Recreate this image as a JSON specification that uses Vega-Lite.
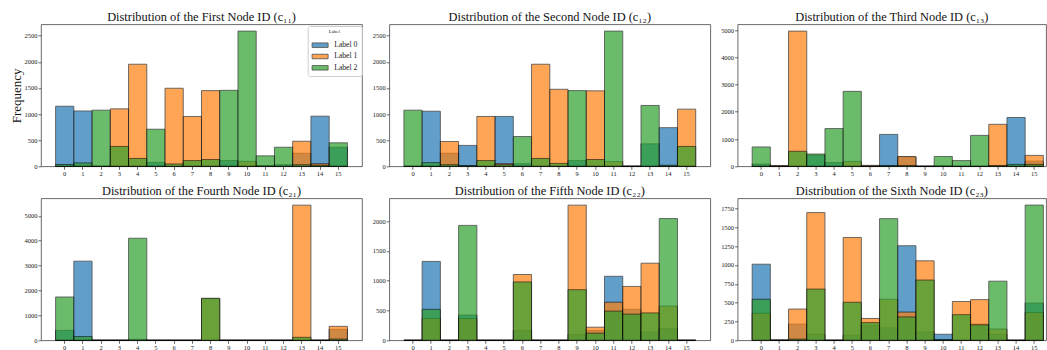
{
  "$schema": "https://vega.github.io/schema/vega-lite/v6.json",
  "padding": {"left": 9, "top": 9.3, "right": 0, "bottom": 0},
  "background": "white",
  "config": {
    "font": "Liberation Serif",
    "view": {"stroke": "#444", "strokeWidth": 0.8},
    "axis": {"domain": false, "grid": false, "tickColor": "#444", "tickSize": 3, "tickWidth": 0.8, "labelFont": "Liberation Serif", "labelFontSize": 6.5, "labelColor": "#222", "labelPadding": 1, "titleFont": "Liberation Serif", "format": "d"},
    "title": {"font": "Liberation Serif", "fontSize": 12.4, "fontWeight": "normal", "color": "#111", "offset": 1.3, "anchor": "middle"}
  },
  "datasets": {
    "hist": [
      {"p":"c11","id":0,"Label 0":1150,"Label 1":0,"Label 2":35},
      {"p":"c11","id":1,"Label 0":1060,"Label 1":0,"Label 2":65},
      {"p":"c11","id":2,"Label 0":0,"Label 1":0,"Label 2":1075},
      {"p":"c11","id":3,"Label 0":0,"Label 1":1100,"Label 2":380},
      {"p":"c11","id":4,"Label 0":0,"Label 1":1955,"Label 2":150},
      {"p":"c11","id":5,"Label 0":75,"Label 1":0,"Label 2":710},
      {"p":"c11","id":6,"Label 0":0,"Label 1":1495,"Label 2":45},
      {"p":"c11","id":7,"Label 0":0,"Label 1":955,"Label 2":110},
      {"p":"c11","id":8,"Label 0":0,"Label 1":1450,"Label 2":130},
      {"p":"c11","id":9,"Label 0":110,"Label 1":0,"Label 2":1455},
      {"p":"c11","id":10,"Label 0":0,"Label 1":95,"Label 2":2590},
      {"p":"c11","id":11,"Label 0":15,"Label 1":0,"Label 2":200},
      {"p":"c11","id":12,"Label 0":30,"Label 1":0,"Label 2":365},
      {"p":"c11","id":13,"Label 0":250,"Label 1":480,"Label 2":30},
      {"p":"c11","id":14,"Label 0":960,"Label 1":50,"Label 2":20},
      {"p":"c11","id":15,"Label 0":365,"Label 1":0,"Label 2":450},
      {"p":"c12","id":0,"Label 0":0,"Label 1":0,"Label 2":1075},
      {"p":"c12","id":1,"Label 0":1055,"Label 1":0,"Label 2":70},
      {"p":"c12","id":2,"Label 0":250,"Label 1":475,"Label 2":30},
      {"p":"c12","id":3,"Label 0":400,"Label 1":0,"Label 2":15},
      {"p":"c12","id":4,"Label 0":0,"Label 1":955,"Label 2":110},
      {"p":"c12","id":5,"Label 0":955,"Label 1":50,"Label 2":30},
      {"p":"c12","id":6,"Label 0":50,"Label 1":0,"Label 2":570},
      {"p":"c12","id":7,"Label 0":0,"Label 1":1955,"Label 2":150},
      {"p":"c12","id":8,"Label 0":0,"Label 1":1475,"Label 2":55},
      {"p":"c12","id":9,"Label 0":110,"Label 1":0,"Label 2":1450},
      {"p":"c12","id":10,"Label 0":0,"Label 1":1445,"Label 2":130},
      {"p":"c12","id":11,"Label 0":0,"Label 1":90,"Label 2":2590},
      {"p":"c12","id":12,"Label 0":0,"Label 1":0,"Label 2":0},
      {"p":"c12","id":13,"Label 0":430,"Label 1":0,"Label 2":1165},
      {"p":"c12","id":14,"Label 0":740,"Label 1":0,"Label 2":20},
      {"p":"c12","id":15,"Label 0":0,"Label 1":1095,"Label 2":380},
      {"p":"c13","id":0,"Label 0":80,"Label 1":0,"Label 2":710},
      {"p":"c13","id":1,"Label 0":0,"Label 1":25,"Label 2":0},
      {"p":"c13","id":2,"Label 0":0,"Label 1":4960,"Label 2":550},
      {"p":"c13","id":3,"Label 0":410,"Label 1":0,"Label 2":450},
      {"p":"c13","id":4,"Label 0":140,"Label 1":0,"Label 2":1385},
      {"p":"c13","id":5,"Label 0":0,"Label 1":180,"Label 2":2750},
      {"p":"c13","id":6,"Label 0":0,"Label 1":35,"Label 2":0},
      {"p":"c13","id":7,"Label 0":1170,"Label 1":0,"Label 2":30},
      {"p":"c13","id":8,"Label 0":340,"Label 1":360,"Label 2":30},
      {"p":"c13","id":9,"Label 0":0,"Label 1":0,"Label 2":0},
      {"p":"c13","id":10,"Label 0":20,"Label 1":0,"Label 2":360},
      {"p":"c13","id":11,"Label 0":0,"Label 1":0,"Label 2":210},
      {"p":"c13","id":12,"Label 0":0,"Label 1":0,"Label 2":1135},
      {"p":"c13","id":13,"Label 0":0,"Label 1":1540,"Label 2":30},
      {"p":"c13","id":14,"Label 0":1790,"Label 1":0,"Label 2":70},
      {"p":"c13","id":15,"Label 0":190,"Label 1":400,"Label 2":70},
      {"p":"c21","id":0,"Label 0":400,"Label 1":0,"Label 2":1740},
      {"p":"c21","id":1,"Label 0":3180,"Label 1":0,"Label 2":150},
      {"p":"c21","id":2,"Label 0":0,"Label 1":0,"Label 2":0},
      {"p":"c21","id":3,"Label 0":0,"Label 1":0,"Label 2":0},
      {"p":"c21","id":4,"Label 0":40,"Label 1":0,"Label 2":4100},
      {"p":"c21","id":5,"Label 0":0,"Label 1":0,"Label 2":0},
      {"p":"c21","id":6,"Label 0":0,"Label 1":0,"Label 2":0},
      {"p":"c21","id":7,"Label 0":0,"Label 1":0,"Label 2":0},
      {"p":"c21","id":8,"Label 0":0,"Label 1":1670,"Label 2":1690},
      {"p":"c21","id":9,"Label 0":0,"Label 1":0,"Label 2":0},
      {"p":"c21","id":10,"Label 0":0,"Label 1":0,"Label 2":0},
      {"p":"c21","id":11,"Label 0":0,"Label 1":0,"Label 2":0},
      {"p":"c21","id":12,"Label 0":0,"Label 1":0,"Label 2":0},
      {"p":"c21","id":13,"Label 0":0,"Label 1":5430,"Label 2":120},
      {"p":"c21","id":14,"Label 0":0,"Label 1":0,"Label 2":0},
      {"p":"c21","id":15,"Label 0":440,"Label 1":560,"Label 2":50},
      {"p":"c22","id":0,"Label 0":0,"Label 1":0,"Label 2":0},
      {"p":"c22","id":1,"Label 0":1325,"Label 1":365,"Label 2":520},
      {"p":"c22","id":2,"Label 0":0,"Label 1":0,"Label 2":0},
      {"p":"c22","id":3,"Label 0":425,"Label 1":365,"Label 2":1930},
      {"p":"c22","id":4,"Label 0":0,"Label 1":0,"Label 2":0},
      {"p":"c22","id":5,"Label 0":0,"Label 1":0,"Label 2":0},
      {"p":"c22","id":6,"Label 0":165,"Label 1":1105,"Label 2":980},
      {"p":"c22","id":7,"Label 0":0,"Label 1":0,"Label 2":0},
      {"p":"c22","id":8,"Label 0":0,"Label 1":0,"Label 2":0},
      {"p":"c22","id":9,"Label 0":100,"Label 1":2270,"Label 2":850},
      {"p":"c22","id":10,"Label 0":165,"Label 1":220,"Label 2":120},
      {"p":"c22","id":11,"Label 0":1075,"Label 1":640,"Label 2":490},
      {"p":"c22","id":12,"Label 0":520,"Label 1":905,"Label 2":440},
      {"p":"c22","id":13,"Label 0":140,"Label 1":1295,"Label 2":460},
      {"p":"c22","id":14,"Label 0":195,"Label 1":575,"Label 2":2045},
      {"p":"c22","id":15,"Label 0":0,"Label 1":0,"Label 2":0},
      {"p":"c23","id":0,"Label 0":1010,"Label 1":360,"Label 2":545},
      {"p":"c23","id":1,"Label 0":5,"Label 1":0,"Label 2":0},
      {"p":"c23","id":2,"Label 0":215,"Label 1":415,"Label 2":15},
      {"p":"c23","id":3,"Label 0":80,"Label 1":1695,"Label 2":680},
      {"p":"c23","id":4,"Label 0":0,"Label 1":0,"Label 2":0},
      {"p":"c23","id":5,"Label 0":70,"Label 1":1365,"Label 2":505},
      {"p":"c23","id":6,"Label 0":200,"Label 1":290,"Label 2":235},
      {"p":"c23","id":7,"Label 0":165,"Label 1":545,"Label 2":1615},
      {"p":"c23","id":8,"Label 0":1255,"Label 1":375,"Label 2":310},
      {"p":"c23","id":9,"Label 0":110,"Label 1":1055,"Label 2":800},
      {"p":"c23","id":10,"Label 0":80,"Label 1":0,"Label 2":10},
      {"p":"c23","id":11,"Label 0":0,"Label 1":515,"Label 2":340},
      {"p":"c23","id":12,"Label 0":215,"Label 1":540,"Label 2":205},
      {"p":"c23","id":13,"Label 0":80,"Label 1":150,"Label 2":785},
      {"p":"c23","id":14,"Label 0":0,"Label 1":0,"Label 2":0},
      {"p":"c23","id":15,"Label 0":495,"Label 1":370,"Label 2":1795}
    ]
  },
  "data": {"name": "hist"},
  "columns": 3,
  "spacing": {"row": 32, "column": 27.3},
  "bounds": "flush",
  "resolve": {"scale": {"color": "independent"}, "legend": {"color": "independent"}},
  "concat": [
    {
      "title": "Distribution of the First Node ID (c₁₁)",
      "width": 321, "height": 142,
      "transform": [{"filter": {"field": "p", "equal": "c11"}}, {"fold": ["Label 0", "Label 1", "Label 2"], "as": ["Label", "count"]}],
      "mark": {"type": "bar", "opacity": 0.7, "stroke": "#000", "strokeWidth": 0.8},
      "encoding": {
        "x": {"field": "id", "type": "ordinal", "scale": {"domain": [0,1,2,3,4,5,6,7,8,9,10,11,12,13,14,15], "paddingInner": 0, "paddingOuter": 0.8}, "axis": {"labelAngle": 0, "title": null}},
        "y": {"field": "count", "type": "quantitative", "stack": null, "scale": {"domain": [0, 2720], "nice": false}, "axis": {"values": [0,500,1000,1500,2000,2500], "title": "Frequency", "titleFontSize": 13, "titleFontWeight": "normal", "titleColor": "#111", "titlePadding": 1}},
        "color": {"field": "Label", "type": "nominal", "scale": {"domain": ["Label 0", "Label 1", "Label 2"], "range": ["#1f77b4", "#ff7f0e", "#2ca02c"]},
          "legend": {"orient": "none", "legendX": 266.7, "legendY": 1.7, "title": "Label", "titleAnchor": "middle", "titleFont": "Liberation Serif", "titleFontSize": 4.9, "titleFontWeight": "normal", "titleColor": "#222", "titlePadding": 7, "labelFont": "Liberation Serif", "labelFontSize": 7.6, "labelColor": "#222", "symbolType": "M-2.67,-0.75L2.67,-0.75L2.67,0.75L-2.67,0.75Z", "symbolSize": 36, "symbolOffset": 5.1, "labelOffset": 10.4, "symbolStrokeColor": "#000", "symbolStrokeWidth": 0.8, "symbolOpacity": 0.7, "rowPadding": 2.3, "padding": 3.5, "strokeColor": "#ccc", "fillColor": "#ffffff", "cornerRadius": 2}}
      }
    },
    {
      "title": "Distribution of the Second Node ID (c₁₂)",
      "width": 321, "height": 142,
      "transform": [{"filter": {"field": "p", "equal": "c12"}}, {"fold": ["Label 0", "Label 1", "Label 2"], "as": ["Label", "count"]}],
      "mark": {"type": "bar", "opacity": 0.7, "stroke": "#000", "strokeWidth": 0.8},
      "encoding": {
        "x": {"field": "id", "type": "ordinal", "scale": {"domain": [0,1,2,3,4,5,6,7,8,9,10,11,12,13,14,15], "paddingInner": 0, "paddingOuter": 0.8}, "axis": {"labelAngle": 0, "title": null}},
        "y": {"field": "count", "type": "quantitative", "stack": null, "scale": {"domain": [0, 2720], "nice": false}, "axis": {"values": [0,500,1000,1500,2000,2500], "title": null}},
        "color": {"field": "Label", "type": "nominal", "scale": {"domain": ["Label 0", "Label 1", "Label 2"], "range": ["#1f77b4", "#ff7f0e", "#2ca02c"]}, "legend": null}
      }
    },
    {
      "title": "Distribution of the Third Node ID (c₁₃)",
      "width": 308.5, "height": 142,
      "transform": [{"filter": {"field": "p", "equal": "c13"}}, {"fold": ["Label 0", "Label 1", "Label 2"], "as": ["Label", "count"]}],
      "mark": {"type": "bar", "opacity": 0.7, "stroke": "#000", "strokeWidth": 0.8},
      "encoding": {
        "x": {"field": "id", "type": "ordinal", "scale": {"domain": [0,1,2,3,4,5,6,7,8,9,10,11,12,13,14,15], "paddingInner": 0, "paddingOuter": 0.475, "align": 0.842}, "axis": {"labelAngle": 0, "title": null}},
        "y": {"field": "count", "type": "quantitative", "stack": null, "scale": {"domain": [0, 5210], "nice": false}, "axis": {"values": [0,1000,2000,3000,4000,5000], "title": null}},
        "color": {"field": "Label", "type": "nominal", "scale": {"domain": ["Label 0", "Label 1", "Label 2"], "range": ["#1f77b4", "#ff7f0e", "#2ca02c"]}, "legend": null}
      }
    },
    {
      "title": "Distribution of the Fourth Node ID (c₂₁)",
      "width": 321, "height": 142,
      "transform": [{"filter": {"field": "p", "equal": "c21"}}, {"fold": ["Label 0", "Label 1", "Label 2"], "as": ["Label", "count"]}],
      "mark": {"type": "bar", "opacity": 0.7, "stroke": "#000", "strokeWidth": 0.8},
      "encoding": {
        "x": {"field": "id", "type": "ordinal", "scale": {"domain": [0,1,2,3,4,5,6,7,8,9,10,11,12,13,14,15], "paddingInner": 0, "paddingOuter": 0.8}, "axis": {"labelAngle": 0, "title": null}},
        "y": {"field": "count", "type": "quantitative", "stack": null, "scale": {"domain": [0, 5705], "nice": false}, "axis": {"values": [0,1000,2000,3000,4000,5000], "title": null}},
        "color": {"field": "Label", "type": "nominal", "scale": {"domain": ["Label 0", "Label 1", "Label 2"], "range": ["#1f77b4", "#ff7f0e", "#2ca02c"]}, "legend": null}
      }
    },
    {
      "title": "Distribution of the Fifth Node ID (c₂₂)",
      "width": 321, "height": 142,
      "transform": [{"filter": {"field": "p", "equal": "c22"}}, {"fold": ["Label 0", "Label 1", "Label 2"], "as": ["Label", "count"]}],
      "mark": {"type": "bar", "opacity": 0.7, "stroke": "#000", "strokeWidth": 0.8},
      "encoding": {
        "x": {"field": "id", "type": "ordinal", "scale": {"domain": [0,1,2,3,4,5,6,7,8,9,10,11,12,13,14,15], "paddingInner": 0, "paddingOuter": 0.8}, "axis": {"labelAngle": 0, "title": null}},
        "y": {"field": "count", "type": "quantitative", "stack": null, "scale": {"domain": [0, 2385], "nice": false}, "axis": {"values": [0,500,1000,1500,2000], "title": null}},
        "color": {"field": "Label", "type": "nominal", "scale": {"domain": ["Label 0", "Label 1", "Label 2"], "range": ["#1f77b4", "#ff7f0e", "#2ca02c"]}, "legend": null}
      }
    },
    {
      "title": "Distribution of the Sixth Node ID (c₂₃)",
      "width": 308.5, "height": 142,
      "transform": [{"filter": {"field": "p", "equal": "c23"}}, {"fold": ["Label 0", "Label 1", "Label 2"], "as": ["Label", "count"]}],
      "mark": {"type": "bar", "opacity": 0.7, "stroke": "#000", "strokeWidth": 0.8},
      "encoding": {
        "x": {"field": "id", "type": "ordinal", "scale": {"domain": [0,1,2,3,4,5,6,7,8,9,10,11,12,13,14,15], "paddingInner": 0, "paddingOuter": 0.475, "align": 0.842}, "axis": {"labelAngle": 0, "title": null}},
        "y": {"field": "count", "type": "quantitative", "stack": null, "scale": {"domain": [0, 1885], "nice": false}, "axis": {"values": [0,250,500,750,1000,1250,1500,1750], "title": null}},
        "color": {"field": "Label", "type": "nominal", "scale": {"domain": ["Label 0", "Label 1", "Label 2"], "range": ["#1f77b4", "#ff7f0e", "#2ca02c"]}, "legend": null}
      }
    }
  ]
}
